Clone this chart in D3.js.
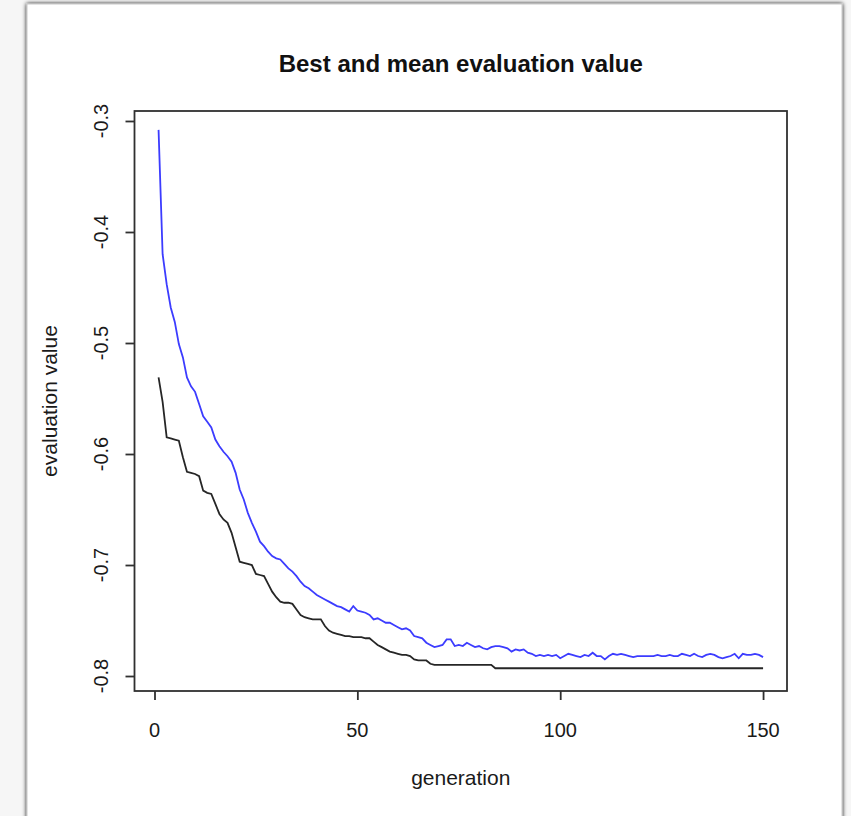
<!DOCTYPE html>
<html>
<head>
<meta charset="utf-8">
<script src="https://cdn.jsdelivr.net/npm/d3@7"></script>
<style>
  body { margin: 0; background: #f6f6f6; }
  svg { display: block; }
</style>
</head>
<body>
<svg class="ga-chart"></svg>
<script>
// mean evaluation value per generation (blue)
var meanValues = [
    -0.308, -0.420, -0.447, -0.468, -0.481, -0.501, -0.513, -0.531, -0.539, -0.544,
    -0.555, -0.566, -0.571, -0.576, -0.587, -0.593, -0.598, -0.602, -0.607, -0.617,
    -0.632, -0.641, -0.653, -0.662, -0.670, -0.679, -0.683, -0.688, -0.692, -0.694,
    -0.695, -0.699, -0.703, -0.706, -0.710, -0.715, -0.719, -0.721, -0.724, -0.727,
    -0.729, -0.731, -0.733, -0.735, -0.737, -0.738, -0.740, -0.742, -0.737, -0.741,
    -0.742, -0.743, -0.745, -0.749, -0.748, -0.750, -0.752, -0.752, -0.754, -0.756,
    -0.758, -0.757, -0.759, -0.764, -0.765, -0.766, -0.770, -0.772, -0.774, -0.773,
    -0.772, -0.767, -0.767, -0.773, -0.772, -0.773, -0.770, -0.772, -0.774, -0.773,
    -0.775, -0.776, -0.774, -0.773, -0.773, -0.774, -0.775, -0.778, -0.776, -0.777,
    -0.776, -0.779, -0.780, -0.782, -0.781, -0.782, -0.781, -0.782, -0.781, -0.784,
    -0.782, -0.780, -0.781, -0.782, -0.783, -0.781, -0.782, -0.779, -0.782, -0.782,
    -0.785, -0.782, -0.780, -0.781, -0.780, -0.781, -0.782, -0.783, -0.782, -0.782,
    -0.782, -0.782, -0.782, -0.781, -0.782, -0.782, -0.781, -0.782, -0.782, -0.780,
    -0.781, -0.782, -0.780, -0.782, -0.783, -0.781, -0.780, -0.781, -0.783, -0.784,
    -0.783, -0.782, -0.780, -0.784, -0.780, -0.781, -0.781, -0.780, -0.781, -0.783
];

// best evaluation value per generation (black)
var bestValues = [
    -0.531, -0.553, -0.585, -0.586, -0.587, -0.588, -0.603, -0.616, -0.617, -0.618,
    -0.620, -0.633, -0.635, -0.636, -0.645, -0.654, -0.659, -0.662, -0.671, -0.684,
    -0.697, -0.698, -0.699, -0.700, -0.708, -0.709, -0.710, -0.717, -0.724, -0.729,
    -0.733, -0.734, -0.734, -0.735, -0.740, -0.745, -0.747, -0.748, -0.749, -0.749,
    -0.749, -0.755, -0.759, -0.761, -0.762, -0.763, -0.764, -0.764, -0.765, -0.765,
    -0.765, -0.766, -0.766, -0.769, -0.772, -0.774, -0.776, -0.778, -0.779, -0.780,
    -0.781, -0.781, -0.782, -0.785, -0.786, -0.786, -0.786, -0.789, -0.790, -0.790,
    -0.790, -0.790, -0.790, -0.790, -0.790, -0.790, -0.790, -0.790, -0.790, -0.790,
    -0.790, -0.790, -0.790, -0.793, -0.793, -0.793, -0.793, -0.793, -0.793, -0.793,
    -0.793, -0.793, -0.793, -0.793, -0.793, -0.793, -0.793, -0.793, -0.793, -0.793,
    -0.793, -0.793, -0.793, -0.793, -0.793, -0.793, -0.793, -0.793, -0.793, -0.793,
    -0.793, -0.793, -0.793, -0.793, -0.793, -0.793, -0.793, -0.793, -0.793, -0.793,
    -0.793, -0.793, -0.793, -0.793, -0.793, -0.793, -0.793, -0.793, -0.793, -0.793,
    -0.793, -0.793, -0.793, -0.793, -0.793, -0.793, -0.793, -0.793, -0.793, -0.793,
    -0.793, -0.793, -0.793, -0.793, -0.793, -0.793, -0.793, -0.793, -0.793, -0.793
];

var xTicks = [0, 50, 100, 150];
var yTicks = [-0.8, -0.7, -0.6, -0.5, -0.4, -0.3];

var svgWidth = 851, svgHeight = 816;
var box = { left: 134.5, top: 111, right: 787, bottom: 691 };
var font = "'Liberation Sans', Arial, sans-serif";

var svg = d3.select('svg.ga-chart')
    .attr("width", svgWidth)
    .attr("height", svgHeight);

// screenshot panel with soft shadow
var defs = svg.append("defs");
var shadow = defs.append("filter").attr("id", "shadow")
    .attr("x", "-5%").attr("y", "-5%").attr("width", "110%").attr("height", "110%");
shadow.append("feGaussianBlur").attr("in", "SourceAlpha").attr("stdDeviation", 2);
shadow.append("feOffset").attr("dx", 0).attr("dy", 0).attr("result", "blur");
var merge = shadow.append("feMerge");
merge.append("feMergeNode").attr("in", "blur");
merge.append("feMergeNode").attr("in", "SourceGraphic");

svg.append("rect")
    .attr("width", svgWidth).attr("height", svgHeight)
    .attr("fill", "#f6f6f6");

svg.append("rect")
    .attr("x", 27).attr("y", 4)
    .attr("width", 815).attr("height", 830)
    .attr("fill", "#ffffff")
    .attr("stroke", "#c8c8c8")
    .attr("filter", "url(#shadow)");

// R pads the data range by 4% on each side
var xScale = d3.scaleLinear().domain([-4.93, 155.9]).range([box.left, box.right]),
    yScale = d3.scaleLinear().domain([-0.8135, -0.291]).range([box.bottom, box.top]);

var line = d3.line()
    .x(function (d, i) { return xScale(i + 1); })
    .y(function (d) { return yScale(d); });

svg.append("path")
    .datum(bestValues)
    .attr("d", line)
    .style("fill", "none")
    .style("stroke", "#262626")
    .style("stroke-width", "1.8");

svg.append("path")
    .datum(meanValues)
    .attr("d", line)
    .style("fill", "none")
    .style("stroke", "#3c3cff")
    .style("stroke-width", "1.8");

// plot box
svg.append("rect")
    .attr("x", box.left).attr("y", box.top)
    .attr("width", box.right - box.left)
    .attr("height", box.bottom - box.top)
    .style("fill", "none")
    .style("stroke", "#303030")
    .style("stroke-width", "1.8");

// axes (ticks only, labels drawn below)
var xAxis = svg.append("g")
    .attr("transform", "translate(0," + box.bottom + ")")
    .call(d3.axisBottom(xScale).tickValues(xTicks).tickSize(9).tickFormat(""));

var yAxis = svg.append("g")
    .attr("transform", "translate(" + box.left + ",0)")
    .call(d3.axisLeft(yScale).tickValues(yTicks).tickSize(9).tickFormat(""));

[xAxis, yAxis].forEach(function (a) {
    a.select(".domain").remove();
    a.selectAll(".tick line").style("stroke", "#303030").style("stroke-width", "1.8");
});

svg.selectAll("text.xtick")
    .data(xTicks)
    .enter()
    .append("text")
    .attr("class", "xtick")
    .attr("x", function (d) { return xScale(d); })
    .attr("y", 737)
    .attr("text-anchor", "middle")
    .style("font-family", font)
    .style("font-size", "20px")
    .style("fill", "#1a1a1a")
    .text(function (d) { return d; });

svg.selectAll("text.ytick")
    .data(yTicks)
    .enter()
    .append("text")
    .attr("class", "ytick")
    .attr("transform", function (d) { return "translate(108," + yScale(d) + ")rotate(-90)"; })
    .attr("text-anchor", "middle")
    .style("font-family", font)
    .style("font-size", "20px")
    .style("fill", "#1a1a1a")
    .text(function (d) { return d.toFixed(1); });

// Title
svg.append("text")
    .attr("x", (box.left + box.right) / 2)
    .attr("y", 72)
    .attr("text-anchor", "middle")
    .style("font-family", font)
    .style("font-weight", "bold")
    .style("font-size", "24px")
    .style("fill", "#111")
    .text("Best and mean evaluation value");

// X label
svg.append("text")
    .attr("x", (box.left + box.right) / 2)
    .attr("y", 785)
    .attr("text-anchor", "middle")
    .style("font-family", font)
    .style("font-size", "21px")
    .style("fill", "#1a1a1a")
    .text("generation");

// Y label
svg.append("text")
    .attr("transform", "translate(57," + (box.top + box.bottom) / 2 + ")rotate(-90)")
    .attr("text-anchor", "middle")
    .style("font-family", font)
    .style("font-size", "21px")
    .style("fill", "#1a1a1a")
    .text("evaluation value");
</script>
</body>
</html>
